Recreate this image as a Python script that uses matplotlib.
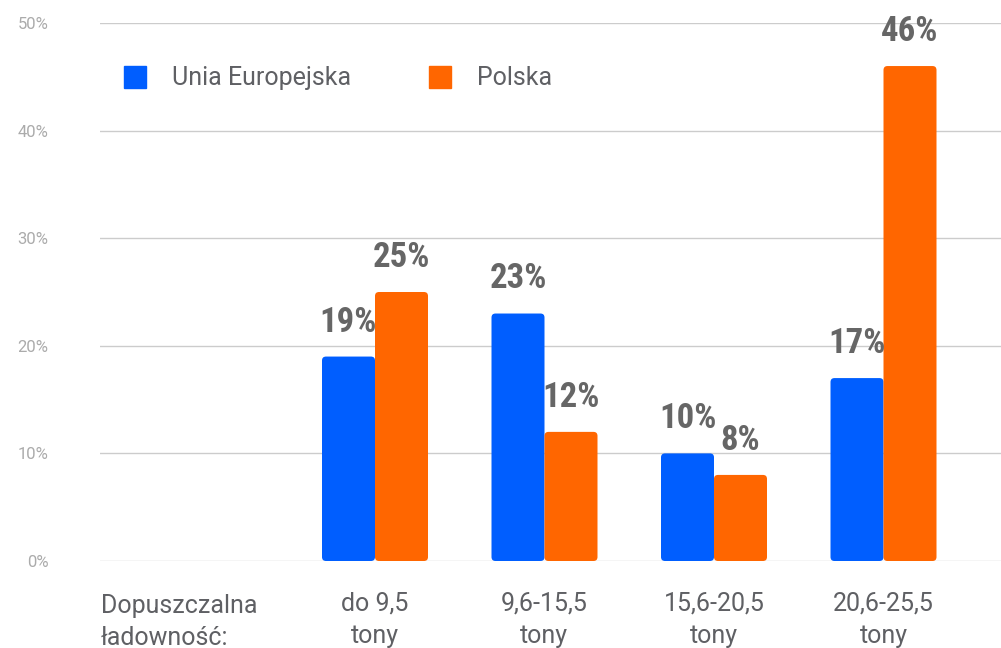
import matplotlib
matplotlib.use("Agg")
import matplotlib.pyplot as plt
from matplotlib import font_manager
from matplotlib.patches import FancyBboxPatch

# ---- data ----
categories = ["Dopuszczalna\nładowność:", "do 9,5\ntony", "9,6-15,5\ntony", "15,6-20,5\ntony", "20,6-25,5\ntony"]
eu_values = [None, 19, 23, 10, 17]
pl_values = [None, 25, 12, 8, 46]
series_names = ["Unia Europejska", "Polska"]
y_ticks = [0, 10, 20, 30, 40, 50]
y_tick_labels = ["0%", "10%", "20%", "30%", "40%", "50%"]

BLUE = "#005EFF"
ORANGE = "#FF6600"
TEXT = "#5f6064"
LABEL = "#666666"
TICK = "#ababab"
GRID = "#cccccc"

names = {f.name for f in font_manager.fontManager.ttflist}
base_font = "Roboto" if "Roboto" in names else "DejaVu Sans"
cond = None
for cand in ["Roboto Condensed", "Liberation Sans Narrow", "Open Sans Condensed", "DejaVu Sans Condensed"]:
    if cand in names:
        cond = cand
        break
label_fp = dict(family=cond if cond else base_font, weight="bold")
if cond is None:
    label_fp["stretch"] = "condensed"

plt.rcParams["font.family"] = [base_font, "DejaVu Sans"]

fig = plt.figure(figsize=(10.01, 6.48), dpi=100)
ax = fig.add_axes([100 / 1001, 1 - 561 / 648, 901 / 1001, (561 - 23) / 648])

x0 = 205.5
step = 169.5
ax.set_xlim((100 - x0) / step, (1001 - x0) / step)
ax.set_ylim(0, 50)

bw = 53 / step
idx = list(range(len(categories)))
bar_x = [i for i in idx if eu_values[i] is not None]
eu = [eu_values[i] for i in bar_x]
pl = [pl_values[i] for i in bar_x]

bars_eu = ax.bar([i - bw / 2 for i in bar_x], eu, width=bw, color=BLUE, zorder=3)
bars_pl = ax.bar([i + bw / 2 for i in bar_x], pl, width=bw, color=ORANGE, zorder=3)

# convert to rounded bars
xpx = (ax.get_xlim()[1] - ax.get_xlim()[0]) / 901
ypx = (ax.get_ylim()[1] - ax.get_ylim()[0]) / 538
r = 4 * xpx
for bc in (bars_eu, bars_pl):
    for b in bc:
        b.set_visible(False)
        p = FancyBboxPatch((b.get_x(), b.get_y()), b.get_width(), b.get_height(),
                           boxstyle=f"round,pad=0,rounding_size={r}",
                           mutation_aspect=ypx / xpx,
                           facecolor=b.get_facecolor(), edgecolor="none", zorder=3)
        ax.add_patch(p)
        ax.annotate(f"{b.get_height():.0f}%", (b.get_x() + b.get_width() / 2, b.get_height()),
                    xytext=(0, 13), textcoords="offset points", ha="center", va="bottom",
                    fontsize=25, color=LABEL, zorder=4, **label_fp)

# grid
ax.set_yticks(y_ticks)
ax.set_yticklabels(y_tick_labels)
ax.yaxis.grid(True, color=GRID, linewidth=1)
ax.set_axisbelow(True)
ax.tick_params(axis="y", length=0, pad=37, labelsize=12, labelcolor=TICK)
ax.tick_params(axis="x", length=0, pad=22, labelsize=18, labelcolor=TEXT)
for s in ax.spines.values():
    s.set_visible(False)

ax.set_xticks(idx[1:])
ax.set_xticklabels(categories[1:], linespacing=1.42)
ax.text(0.001, -33 / 538, categories[0], transform=ax.transAxes, ha="left", va="top",
        fontsize=18, color=TEXT, linespacing=1.42)

# legend
fig.patches.append(plt.Rectangle((124 / 1001, 1 - 88 / 648), 22 / 1001, 22 / 648,
                                 transform=fig.transFigure, color=BLUE))
fig.text(172 / 1001, 1 - 78 / 648, series_names[0], ha="left", va="center",
         fontsize=18, color=TEXT)
fig.patches.append(plt.Rectangle((429 / 1001, 1 - 88 / 648), 22 / 1001, 22 / 648,
                                 transform=fig.transFigure, color=ORANGE))
fig.text(477 / 1001, 1 - 78 / 648, series_names[1], ha="left", va="center",
         fontsize=18, color=TEXT)

fig.savefig("out.png", dpi=100)
